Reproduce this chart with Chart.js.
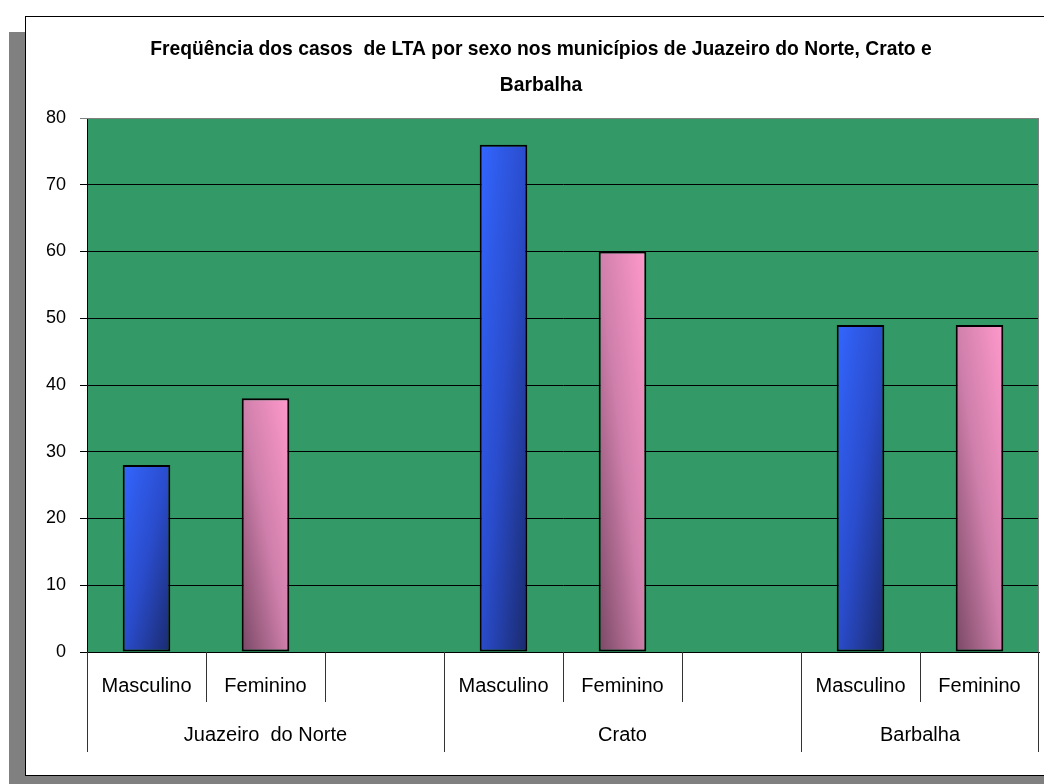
<!DOCTYPE html>
<html lang="pt">
<head>
<meta charset="utf-8">
<title>Freqüência dos casos de LTA por sexo</title>
<script src="https://cdn.jsdelivr.net/npm/chart.js@4/dist/chart.umd.min.js"></script>
<style>
  html, body { margin: 0; padding: 0; background: #ffffff; overflow: hidden; width: 1044px; height: 784px; }
  #shadow { position: absolute; left: 9px; top: 32px; width: 1100px; height: 760px; background: #808080; }
  #frame { position: absolute; left: 25px; top: 16px; width: 1030px; height: 758px; border: 1px solid #000; background: #fff; }
  #chart { position: absolute; left: 0; top: 0; }
</style>
</head>
<body>
<div id="shadow"></div>
<div id="frame"><canvas id="chart" width="1030" height="758"></canvas></div>
<script>
// Municípios e casos de LTA por sexo
const municipios = ['Juazeiro  do Norte', 'Crato', 'Barbalha'];
const sexos = ['Masculino', 'Feminino'];
const masculino = [28, 76, 49];
const feminino = [38, 60, 49];
const yTicks = [0, 10, 20, 30, 40, 50, 60, 70, 80];

const FONT = "'Liberation Sans', Arial, Helvetica, sans-serif";
const PLOT_GREEN = '#339966';
const BAR_FRACTION = 0.4;
const TITLE_SIZE = 19.3;

// Flatten into category slots: each município gets its two sexes plus an empty gap slot (except the last one)
const categorias = [];
const valores = [];
const grupos = []; // {label, start, count}
municipios.forEach((m, g) => {
  const start = categorias.length;
  categorias.push(sexos[0]); valores.push(masculino[g]);
  categorias.push(sexos[1]); valores.push(feminino[g]);
  if (g < municipios.length - 1) { categorias.push(''); valores.push(null); }
  grupos.push({ label: m, start, count: categorias.length - start });
});

// Gradient stretched over each bar (like an office "diagonal" fill)
function barFill(context) {
  const chart = context.chart;
  const sexo = categorias[context.dataIndex];
  const male = sexo === sexos[0];
  const fallback = male ? '#2a4ccc' : '#cf7fab';
  if (!chart.chartArea || context.type !== 'data' || context.raw == null) return fallback;
  const xs = chart.scales.x, ys = chart.scales.y;
  const step = xs.width / categorias.length;
  const w = step * BAR_FRACTION;
  const cx = xs.getPixelForValue(context.dataIndex);
  const left = cx - w / 2;
  const top = ys.getPixelForValue(context.raw);
  const bottom = ys.getPixelForValue(0);
  const h = Math.max(1, bottom - top);
  const k = 2 / (1 / (w * w) + 1 / (h * h));
  let g;
  if (male) {
    g = chart.ctx.createLinearGradient(left, top, left + k / w, top + k / h);
    g.addColorStop(0, '#3366ff');
    g.addColorStop(0.5, '#2a4ccc');
    g.addColorStop(1, '#1a2a6c');
  } else {
    g = chart.ctx.createLinearGradient(left, bottom, left + k / w, bottom - k / h);
    g.addColorStop(0, '#794865');
    g.addColorStop(0.5, '#cf7fab');
    g.addColorStop(1, '#ff99cc');
  }
  return g;
}

// Green plot area with grey outline on top and right
const plotBackdrop = {
  id: 'plotBackdrop',
  beforeDraw(chart) {
    const { ctx, chartArea: a } = chart;
    ctx.save();
    ctx.fillStyle = PLOT_GREEN;
    ctx.fillRect(a.left, a.top, a.right - a.left, a.bottom - a.top);
    ctx.restore();
  },
  beforeDatasetsDraw(chart) {
    const { ctx, chartArea: a } = chart;
    ctx.save();
    ctx.strokeStyle = '#808080';
    ctx.lineWidth = 1;
    ctx.beginPath();
    ctx.moveTo(a.left, Math.round(a.top) + 0.5);
    ctx.lineTo(Math.round(a.right) - 0.5, Math.round(a.top) + 0.5);
    ctx.lineTo(Math.round(a.right) - 0.5, a.bottom);
    ctx.stroke();
    ctx.restore();
  }
};

// Two-level category axis: separators and município names
const groupAxis = {
  id: 'groupAxis',
  afterDraw(chart) {
    const { ctx } = chart;
    const xs = chart.scales.x;
    const top = xs.top;
    const step = xs.width / categorias.length;
    const edges = new Set();
    grupos.forEach(gr => { edges.add(gr.start); edges.add(gr.start + gr.count); });
    ctx.save();
    ctx.strokeStyle = '#333333';
    ctx.lineWidth = 1;
    for (let k = 0; k <= categorias.length; k++) {
      const x = Math.round(xs.left + k * step) + (k === categorias.length ? -0.5 : 0.5);
      const len = edges.has(k) ? 100 : 50;
      ctx.beginPath();
      ctx.moveTo(x, top);
      ctx.lineTo(x, top + len);
      ctx.stroke();
    }
    ctx.fillStyle = '#000';
    ctx.font = '20px ' + FONT;
    ctx.textAlign = 'center';
    ctx.textBaseline = 'middle';
    grupos.forEach(gr => {
      const cx = xs.left + (gr.start + gr.count / 2) * step;
      ctx.fillText(gr.label, cx, top + 83);
    });
    ctx.restore();
  }
};

new Chart(document.getElementById('chart'), {
  type: 'bar',
  data: {
    labels: categorias,
    datasets: [{
      data: valores,
      backgroundColor: barFill,
      borderColor: '#000000',
      borderWidth: 2,
      borderSkipped: false,
      barPercentage: BAR_FRACTION,
      categoryPercentage: 1
    }]
  },
  options: {
    responsive: false,
    animation: false,
    events: [],
    layout: { padding: { left: 17, right: 17, top: 0, bottom: 0 } },
    plugins: {
      legend: { display: false },
      tooltip: { enabled: false },
      title: {
        display: true,
        text: ['Freqüência dos casos  de LTA por sexo nos municípios de Juazeiro do Norte, Crato e', 'Barbalha'],
        color: '#000',
        font: { family: FONT, size: TITLE_SIZE, weight: 'bold', lineHeight: 36 / TITLE_SIZE },
        padding: { top: 15, bottom: 14 }
      }
    },
    scales: {
      x: {
        type: 'category',
        offset: true,
        grid: { display: false, drawTicks: false },
        border: { display: true, color: '#000', width: 1 },
        ticks: { color: '#000', font: { family: FONT, size: 20 }, padding: 22, autoSkip: false, maxRotation: 0 },
        afterFit(scale) { scale.height = 123; }
      },
      y: {
        min: 0,
        max: 80,
        afterBuildTicks(scale) { scale.ticks = yTicks.map(v => ({ value: v })); },
        grid: {
          color: ctx => (ctx.tick && ctx.tick.value === 80 ? '#808080' : '#000000'),
          lineWidth: 1,
          drawTicks: true,
          tickLength: 7
        },
        border: { display: true, color: '#000', width: 1 },
        ticks: { color: '#000', font: { family: FONT, size: 18 }, padding: 14 },
        afterFit(scale) { scale.width = 44; }
      }
    }
  },
  plugins: [plotBackdrop, groupAxis]
});
</script>
</body>
</html>
